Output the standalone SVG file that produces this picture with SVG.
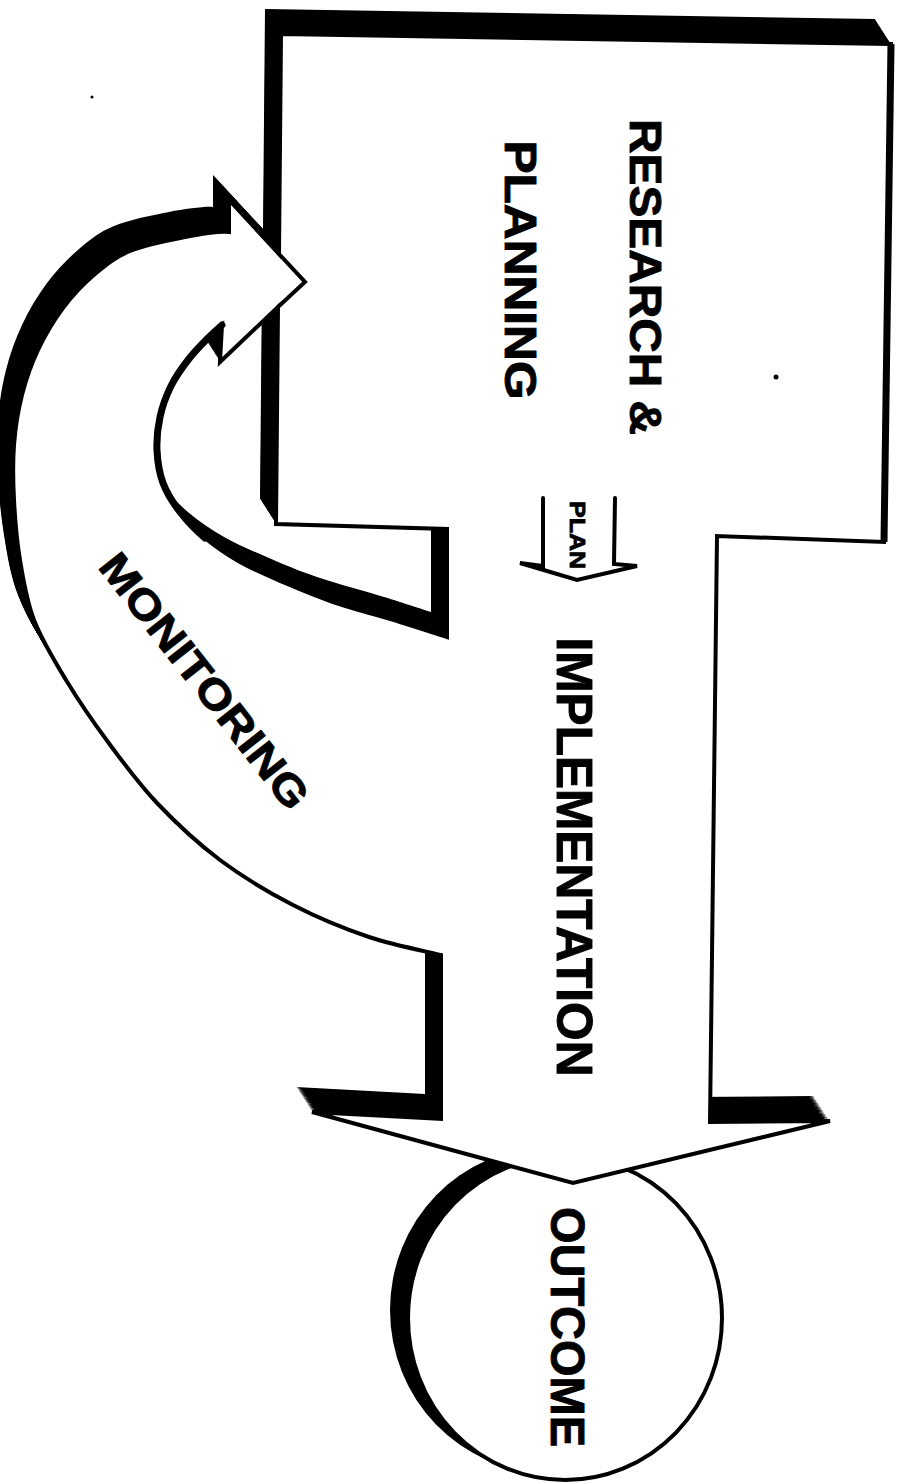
<svg xmlns="http://www.w3.org/2000/svg" xmlns:xlink="http://www.w3.org/1999/xlink" width="903" height="1484" viewBox="0 0 903 1484">
<style>
.t{font-family:"Liberation Sans",Arial,Helvetica,sans-serif;font-weight:bold;fill:#000;stroke:#000;stroke-width:0.9}
.ol{fill:none;stroke:#000;stroke-width:4;stroke-linejoin:miter;stroke-linecap:round}
.sh{fill:#000}
</style>
<defs>
<path id="u" fill-rule="evenodd" d="M281,34 L891,44 L884,542 L717,536 L710,1122 L830,1121 L573,1183 L312,1112 L441,1119 L441,955 C429,952 393.7,945.3 369,937 C344.3,928.7 317.8,917.8 293,905 C268.2,892.2 242.7,877 220,860 C197.3,843 175.7,822.7 157,803 C138.3,783.3 123.2,762.5 108,742 C92.8,721.5 78.3,700.3 66,680 C53.7,659.7 41.7,640 34,620 C26.3,600 23.3,580 20,560 C16.7,540 15,519.2 14,500 C13,480.8 12.7,462.5 14,445 C15.3,427.5 18,410.8 22,395 C26,379.2 31.2,364.5 38,350 C44.8,335.5 53.5,320.7 63,308 C72.5,295.3 83.8,283.5 95,274 C106.2,264.5 115,257.2 130,251 C145,244.8 168.5,240.2 185,237 C201.5,233.8 221.7,231.2 229,232 L229,200 L279,254 Z M278,307 L220,362 L222,325 C219.5,327.3 212.7,333.2 207,339 C201.3,344.8 194,352.2 188,360 C182,367.8 175.7,376.5 171,386 C166.3,395.5 162.3,406.3 160,417 C157.7,427.7 156.5,439 157,450 C157.5,461 159.2,472.7 163,483 C166.8,493.3 173,502.8 180,512 C187,521.2 195,529.7 205,538 C215,546.3 226.7,554.5 240,562 C253.3,569.5 269.5,576.3 285,583 C300.5,589.7 313.8,595.5 333,602 C352.2,608.5 381,616.2 400,622 C419,627.8 439.2,634.5 447,637 L447,529 L276,524 Z"/>
</defs>
<g id="outcome-node">
<ellipse cx="547" cy="1310" rx="157" ry="162" class="sh"/>
<ellipse cx="565" cy="1318" rx="157" ry="162" fill="#fff" stroke="#000" stroke-width="4"/>
</g>
<g id="shape-extrusion" class="sh">
<use xlink:href="#u" transform="translate(-0.5,-0.78)"/>
<use xlink:href="#u" transform="translate(-1,-1.56)"/>
<use xlink:href="#u" transform="translate(-1.5,-2.34)"/>
<use xlink:href="#u" transform="translate(-2,-3.13)"/>
<use xlink:href="#u" transform="translate(-2.5,-3.91)"/>
<use xlink:href="#u" transform="translate(-3,-4.69)"/>
<use xlink:href="#u" transform="translate(-3.5,-5.47)"/>
<use xlink:href="#u" transform="translate(-4,-6.25)"/>
<use xlink:href="#u" transform="translate(-4.5,-7.03)"/>
<use xlink:href="#u" transform="translate(-5,-7.81)"/>
<use xlink:href="#u" transform="translate(-5.5,-8.59)"/>
<use xlink:href="#u" transform="translate(-6,-9.38)"/>
<use xlink:href="#u" transform="translate(-6.5,-10.16)"/>
<use xlink:href="#u" transform="translate(-7,-10.94)"/>
<use xlink:href="#u" transform="translate(-7.5,-11.72)"/>
<use xlink:href="#u" transform="translate(-8,-12.5)"/>
<use xlink:href="#u" transform="translate(-8.5,-13.28)"/>
<use xlink:href="#u" transform="translate(-9,-14.06)"/>
<use xlink:href="#u" transform="translate(-9.5,-14.84)"/>
<use xlink:href="#u" transform="translate(-10,-15.63)"/>
<use xlink:href="#u" transform="translate(-10.5,-16.41)"/>
<use xlink:href="#u" transform="translate(-11,-17.19)"/>
<use xlink:href="#u" transform="translate(-11.5,-17.97)"/>
<use xlink:href="#u" transform="translate(-12,-18.75)"/>
<use xlink:href="#u" transform="translate(-12.5,-19.53)"/>
<use xlink:href="#u" transform="translate(-13,-20.31)"/>
<use xlink:href="#u" transform="translate(-13.5,-21.09)"/>
<use xlink:href="#u" transform="translate(-14,-21.88)"/>
<use xlink:href="#u" transform="translate(-14.5,-22.66)"/>
<use xlink:href="#u" transform="translate(-15,-23.44)"/>
<use xlink:href="#u" transform="translate(-15.5,-24.22)"/>
<use xlink:href="#u" transform="translate(-16,-25)"/>
</g>
<g id="research-planning-implementation-monitoring-shape">
<use xlink:href="#u" fill="#fff"/>
<use xlink:href="#u" class="ol"/>
<path class="ol" d="M279,254 L305,282 L278,307"/>
<path d="M891,44 L884,542" fill="none" stroke="#000" stroke-width="7"/>
<path d="M222,325 C219.5,327.3 212.7,333.2 207,339 C201.3,344.8 194,352.2 188,360 C182,367.8 175.7,376.5 171,386 C166.3,395.5 162.3,406.3 160,417 C157.7,427.7 156.5,439 157,450 C157.5,461 159.2,472.7 163,483 C166.8,493.3 173,502.8 180,512 C187,521.2 195,529.7 205,538" fill="none" stroke="#000" stroke-width="7" stroke-linecap="round"/>
</g>
<g id="connectors">
<path id="plan-arrow" class="ol" d="M543,498 L543,566 L520,563 L577,580 L637,566 L614,564 L615,498"/>
</g>
<g id="labels">
<text class="t" font-size="44" text-anchor="middle" textLength="316" lengthAdjust="spacingAndGlyphs" transform="translate(630,277) rotate(90)">RESEARCH &amp;</text>
<text class="t" font-size="44" text-anchor="middle" textLength="259" lengthAdjust="spacingAndGlyphs" transform="translate(505,270) rotate(90)">PLANNING</text>
<text class="t" font-size="22" text-anchor="middle" textLength="68" lengthAdjust="spacingAndGlyphs" transform="translate(570,535) rotate(90)">PLAN</text>
<text class="t" font-size="50" text-anchor="middle" textLength="439" lengthAdjust="spacingAndGlyphs" transform="translate(557,857) rotate(90)">IMPLEMENTATION</text>
<text class="t" font-size="48" text-anchor="middle" textLength="240" lengthAdjust="spacingAndGlyphs" transform="translate(551,1327) rotate(90)">OUTCOME</text>
<text class="t" font-size="42" text-anchor="middle" textLength="312" lengthAdjust="spacingAndGlyphs" transform="translate(193,690) rotate(52)">MONITORING</text>
</g>
<g id="specks" fill="#000">
<circle cx="776" cy="377" r="2.5"/>
<circle cx="92" cy="97" r="1.5"/>
</g>
</svg>
